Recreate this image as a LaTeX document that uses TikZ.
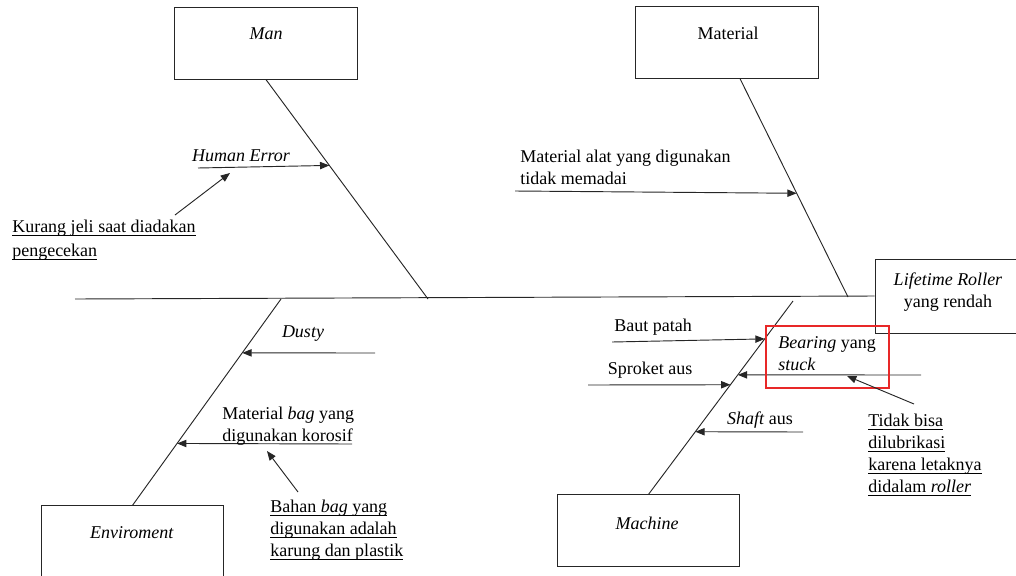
\documentclass[tikz,border=0pt]{standalone}
\usepackage{fontspec}
\setmainfont{Liberation Serif}
\usetikzlibrary{positioning,calc,arrows.meta}
\definecolor{markred}{RGB}{232,40,40}
\newcommand{\ulin}[1]{\setbox0\hbox{#1}\rlap{\raisebox{-2.3pt}{\rule{\wd0}{0.55pt}}}\box0}

\begin{document}
\begin{tikzpicture}[x=0.75pt,y=-0.75pt,
    font=\fontsize{13.5}{16.5}\selectfont,
    bone/.style={line width=0.7pt, black!85},
    arr/.style={line width=0.7pt, black!85, -{Triangle[length=7pt,width=5.5pt]}},
    catbox/.style={draw, black!85, line width=0.7pt, minimum width=137pt, minimum height=53.5pt, inner sep=0pt},
    txt/.style={inner sep=0pt, align=left}]
  \useasboundingbox (0,0) rectangle (1016,575);

  % category boxes
  \node (Man) at (266,43.5) [catbox] {};
  \node (Material) at (727,42.5) [catbox] {};
  \node (Env) at (132.5,541.5) [catbox] {};
  \node (Machine) at (648.5,530.5) [catbox] {};
  \node (Effect) at (947.5,296) [draw, black!85, line width=0.7pt, minimum width=108.75pt, minimum height=55.5pt] {};

  \node (ManLbl) at (266,34) [txt] {\textit{Man}};
  \node (MaterialLbl) at (728,33) [txt] {Material};
  \node (EnvLbl) at (132,533) [txt] {\textit{Enviroment}};
  \node (MachineLbl) at (647,523) [txt] {\textit{Machine}};
  \node (EffectLbl) at (948,292) [inner sep=0pt, align=center] {\textit{Lifetime Roller}\\yang rendah};

  % spine and bones
  \coordinate (Tail) at (75,299);
  \draw [bone] (Tail) -- (Effect.west);

  \coordinate (ManJoint) at (428,299);
  \coordinate (MatRoot) at ([xshift=9.75pt]Material.south);
  \coordinate (MatJoint) at (848,297);
  \coordinate (EnvJoint) at (281,299);
  \coordinate (MachJoint) at (793,301);

  \draw [bone] (Man.south) -- (ManJoint);
  \draw [bone] (MatRoot) -- (MatJoint);
  \draw [bone] (EnvJoint) -- (Env.north);
  \draw [bone] (MachJoint) -- (Machine.north);

  % man
  \coordinate (HumanTip) at ($(Man.south)!0.391!(ManJoint)$);
  \coordinate (HumanStart) at (198,168);
  \draw [arr] (HumanStart) -- (HumanTip);
  \node (HumanLbl) at (241,156) [txt] {\textit{Human Error}};
  \node (Kurang) at (12,219.5) [txt, anchor=north west, font=\fontsize{13.5}{18}\selectfont] {\ulin{Kurang jeli saat diadakan}\\\ulin{pengecekan}};
  \coordinate (KurangStart) at (175,215);
  \coordinate (KurangTip) at (230,173);
  \draw [arr] (KurangStart) -- (KurangTip);

  % material
  \coordinate (MatTip) at ($(MatRoot)!0.525!(MatJoint)$);
  \coordinate (MatStart) at (515,191);
  \draw [arr] (MatStart) -- (MatTip);
  \node (MatLbl) at (520,149.5) [txt, anchor=north west] {Material alat yang digunakan\\tidak memadai};

  % enviroment
  \coordinate (DustyTip) at ($(EnvJoint)!0.261!(Env.north)$);
  \coordinate (DustyStart) at (375,353);
  \draw [arr] (DustyStart) -- (DustyTip);
  \node (DustyLbl) at (303,334) [txt] {\textit{Dusty}};

  \coordinate (BagTip) at ($(EnvJoint)!0.70!(Env.north)$);
  \coordinate (BagStart) at (352,444);
  \draw [arr] (BagStart) -- (BagTip);
  \node (BagLbl) at (222,406.5) [txt, anchor=north west] {Material \textit{bag} yang\\digunakan korosif};

  \node (Bahan) at (270,499.5) [txt, anchor=north west] {\ulin{Bahan \textit{bag} yang}\\\ulin{digunakan adalah}\\\ulin{karung dan plastik}};
  \coordinate (BahanStart) at (298,492);
  \coordinate (BahanTip) at (267,451);
  \draw [arr] (BahanStart) -- (BahanTip);

  % machine
  \coordinate (BautTip) at ($(MachJoint)!0.196!(Machine.north)$);
  \coordinate (BautStart) at (612,342);
  \draw [arr] (BautStart) -- (BautTip);
  \node (BautLbl) at (653,327) [txt] {Baut patah};

  \coordinate (SproketTip) at ($(MachJoint)!0.433!(Machine.north)$);
  \coordinate (SproketStart) at (588,385);
  \draw [arr] (SproketStart) -- (SproketTip);
  \node (SproketLbl) at (650,370) [txt] {Sproket aus};

  \coordinate (BearingTip) at ($(MachJoint)!0.382!(Machine.north)$);
  \coordinate (BearingStart) at (921,375);
  \draw [arr] (BearingStart) -- (BearingTip);
  \node (BearingLbl) at (778,336.5) [txt, anchor=north west] {\textit{Bearing} yang\\\textit{stuck}};
  \node (Highlight) at (827.5,357) [draw=markred, line width=0.8pt, minimum width=92.25pt, minimum height=46.5pt] {};

  \node (Tidak) at (868,413.5) [txt, anchor=north west] {\ulin{Tidak bisa}\\\ulin{dilubrikasi}\\\ulin{karena letaknya}\\\ulin{didalam \textit{roller}}};
  \coordinate (TidakStart) at (914,404);
  \coordinate (TidakTip) at (847,376);
  \draw [arr] (TidakStart) -- (TidakTip);

  \coordinate (ShaftTip) at ($(MachJoint)!0.676!(Machine.north)$);
  \coordinate (ShaftStart) at (803,432);
  \draw [arr] (ShaftStart) -- (ShaftTip);
  \node (ShaftLbl) at (760,420) [txt] {\textit{Shaft} aus};
\end{tikzpicture}
\end{document}
